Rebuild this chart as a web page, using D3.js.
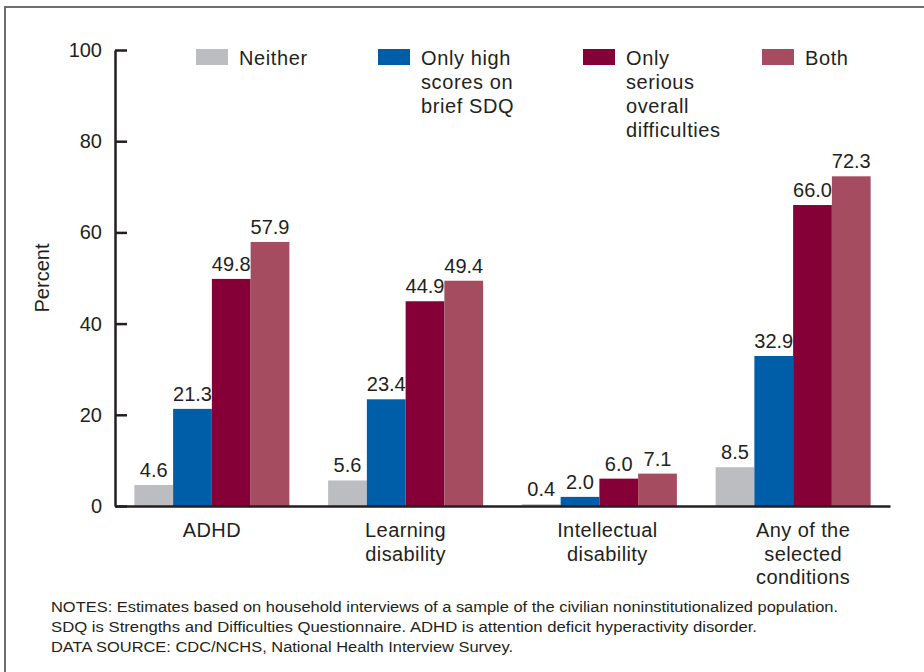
<!DOCTYPE html>
<html>
<head>
<meta charset="utf-8">
<script src="https://cdn.jsdelivr.net/npm/d3@7"></script>
<style>
  html, body { margin: 0; padding: 0; background: #fff; }
  svg { display: block; font-family: "Liberation Sans", Arial, Helvetica, sans-serif; }
</style>
</head>
<body>
<svg id="chart" width="924" height="672"></svg>
<script>
const categories = [["ADHD"], ["Learning", "disability"], ["Intellectual", "disability"], ["Any of the", "selected", "conditions"]];
const seriesNames = ["Neither", "Only high scores on brief SDQ", "Only serious overall difficulties", "Both"];
const legendLines = [["Neither"], ["Only high", "scores on", "brief SDQ"], ["Only", "serious", "overall", "difficulties"], ["Both"]];
const seriesColors = ["#bcbdc0", "#005da8", "#850037", "#a54c60"];
const neither = [4.6, 5.6, 0.4, 8.5];
const onlySDQ = [21.3, 23.4, 2.0, 32.9];
const onlySerious = [49.8, 44.9, 6.0, 66.0];
const both = [57.9, 49.4, 7.1, 72.3];
const yTicks = [0, 20, 40, 60, 80, 100];
const notes = [
  "NOTES: Estimates based on household interviews of a sample of the civilian noninstitutionalized population.",
  "SDQ is Strengths and Difficulties Questionnaire.  ADHD is attention deficit hyperactivity disorder.",
  "DATA SOURCE: CDC/NCHS, National Health Interview Survey."
];

(function() {
const series = [neither, onlySDQ, onlySerious, both];
const svg = d3.select("#chart");
const ink = "#231f20";
const fs = 20;

// frame
svg.append("rect").attr("x", 5).attr("y", 7).attr("width", 940).attr("height", 700)
  .attr("fill", "none").attr("stroke", "#6d6e71").attr("stroke-width", 2);

const pLeft = 115, pRight = 890, pTop = 50, pBottom = 506;
const x0 = d3.scaleBand().domain(d3.range(categories.length)).range([pLeft, pRight])
  .paddingInner(0.2).paddingOuter(0.1);
const x1 = d3.scaleBand().domain(d3.range(series.length)).range([0, x0.bandwidth()]);
const y = d3.scaleLinear().domain([0, 100]).range([pBottom, pTop]);

// bars
const groups = svg.append("g").selectAll("g").data(categories).join("g")
  .attr("transform", (d, i) => `translate(${x0(i)},0)`);
groups.each(function(c, ci) {
  const g = d3.select(this);
  series.forEach((s, si) => {
    const v = s[ci];
    g.append("rect")
      .attr("x", x1(si)).attr("width", x1.bandwidth())
      .attr("y", y(v)).attr("height", y(0) - y(v))
      .attr("fill", seriesColors[si]);
    g.append("text")
      .attr("x", x1(si) + x1.bandwidth() / 2).attr("y", y(v) - 8)
      .attr("text-anchor", "middle").attr("font-size", fs).attr("fill", ink)
      .text(v.toFixed(1));
  });
});

// y axis
const yAxis = d3.axisLeft(y).tickValues(yTicks).tickSize(-12).tickPadding(13).tickSizeOuter(0);
const yg = svg.append("g").attr("transform", `translate(${pLeft},0)`).call(yAxis);
yg.select(".domain").attr("stroke", ink).attr("stroke-width", 2.5);
yg.selectAll(".tick line").attr("stroke", ink).attr("stroke-width", 2.5);
yg.selectAll(".tick text").attr("font-size", fs).attr("fill", ink)
  .attr("font-family", "Liberation Sans, Arial, sans-serif");

// x axis baseline
const xAxis = d3.axisBottom(x0).tickSize(0).tickSizeOuter(0).tickFormat("");
const xg = svg.append("g").attr("transform", `translate(0,${pBottom})`).call(xAxis);
xg.select(".domain").attr("stroke", ink).attr("stroke-width", 2.5);

// category labels
const nudge = [0, 0, 8, 10];
categories.forEach((lines, ci) => {
  const t = svg.append("text").attr("text-anchor", "middle").attr("font-size", fs)
    .attr("letter-spacing", 0.4).attr("fill", ink);
  lines.forEach((ln, li) => {
    t.append("tspan").attr("x", x0(ci) + x0.bandwidth() / 2 + nudge[ci]).attr("y", 537 + li * 23.5).text(ln);
  });
});

// y label
svg.append("text").attr("transform", "translate(49,278) rotate(-90)")
  .attr("text-anchor", "middle").attr("font-size", fs).attr("fill", ink).text("Percent");

// legend
const legendX = [196, 378, 583, 762];
legendLines.forEach((lines, i) => {
  svg.append("rect").attr("x", legendX[i]).attr("y", 49).attr("width", 32).attr("height", 16)
    .attr("fill", seriesColors[i]);
  const t = svg.append("text").attr("font-size", fs).attr("letter-spacing", 0.6).attr("fill", ink);
  lines.forEach((ln, li) => {
    t.append("tspan").attr("x", legendX[i] + 43).attr("y", 65 + li * 24).text(ln);
  });
});

// notes
const noteWidths = [787, 706, 462];
notes.forEach((n, i) => {
  svg.append("text").attr("x", 51).attr("y", 612 + i * 20)
    .attr("font-size", 15.5).attr("fill", ink)
    .attr("textLength", noteWidths[i]).attr("lengthAdjust", "spacingAndGlyphs")
    .text(n);
});
})();
</script>
</body>
</html>
